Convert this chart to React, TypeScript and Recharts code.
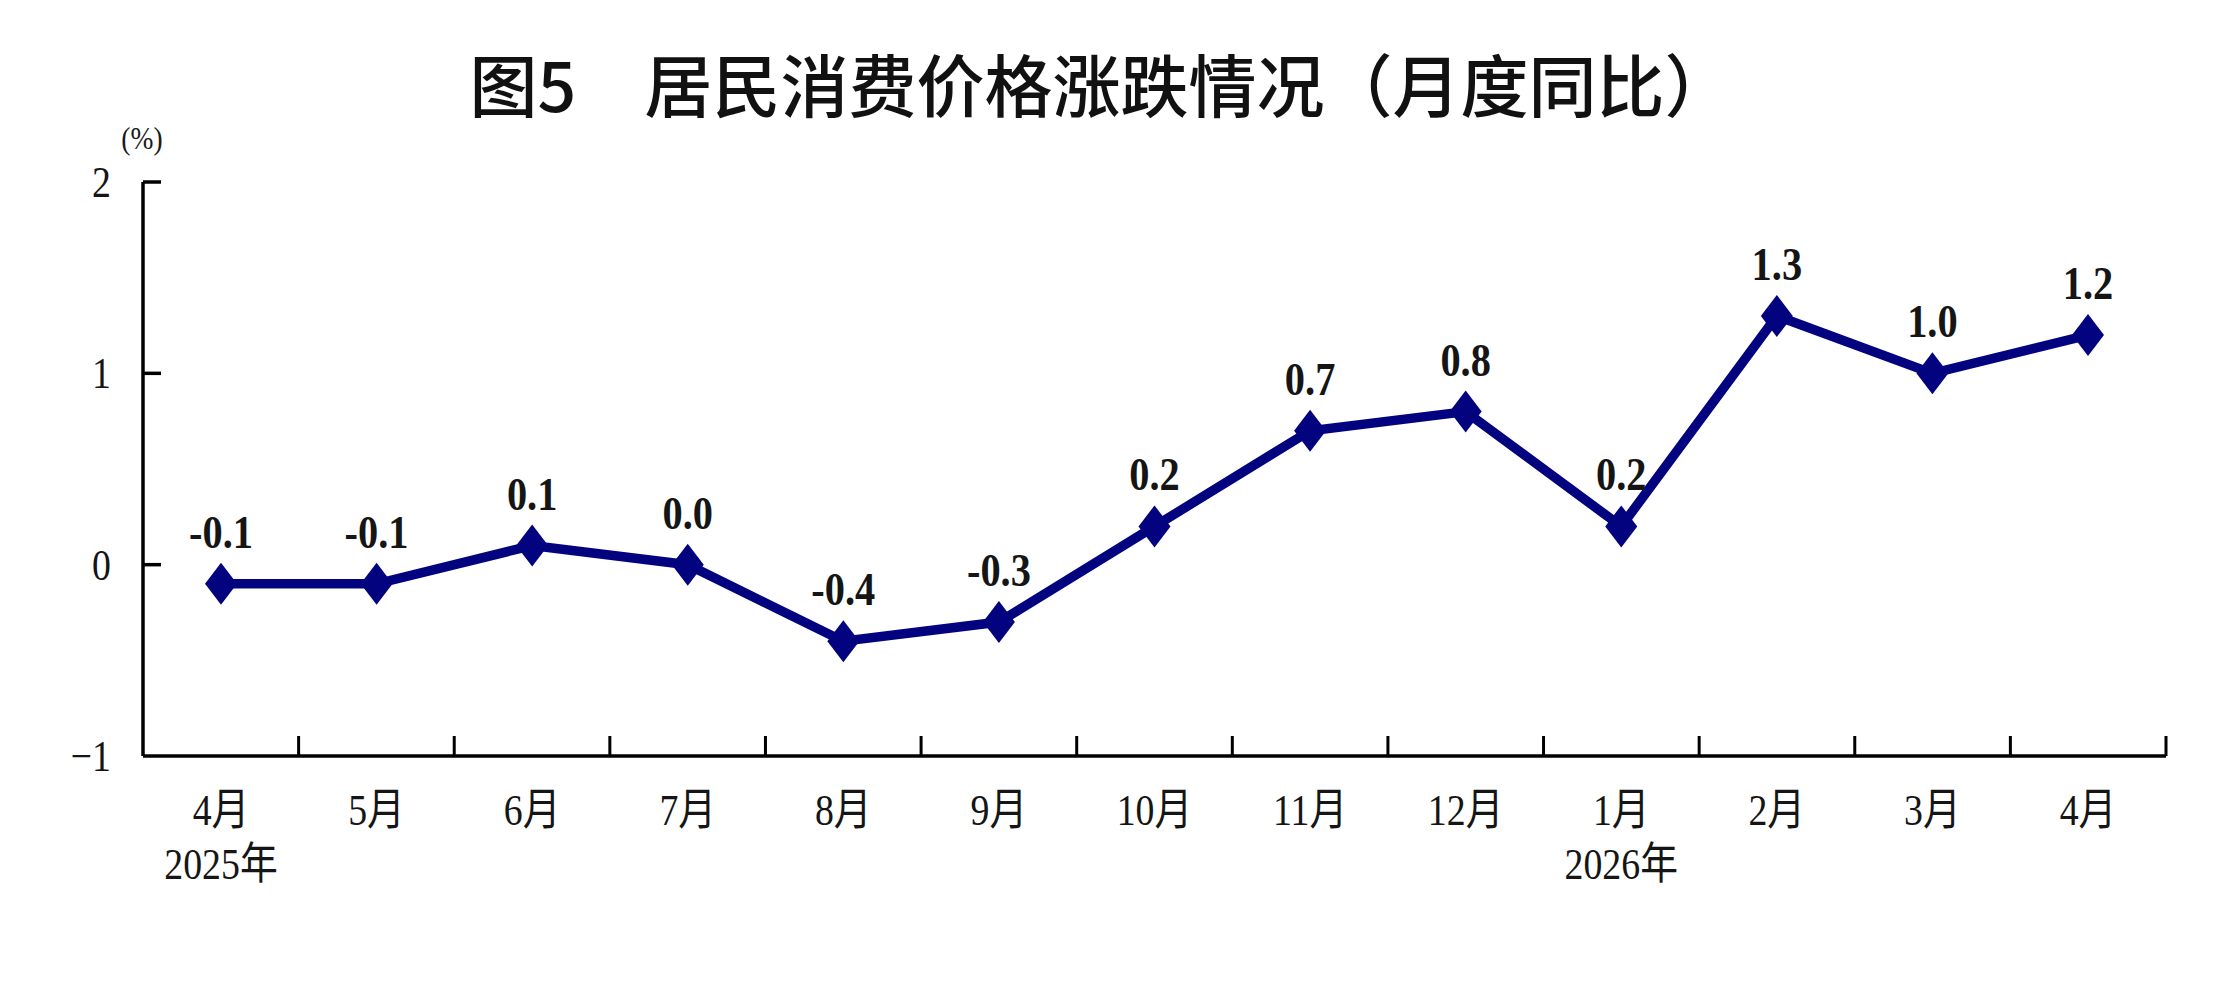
import React from "react";
import { LineChart, Line, XAxis, YAxis, LabelList } from "recharts";

document.body.style.margin = "0";

// 月份、年份标注与同比数据
const months = ["4月", "5月", "6月", "7月", "8月", "9月", "10月", "11月", "12月", "1月", "2月", "3月", "4月"];
const years = ["2025年", "", "", "", "", "", "", "", "", "2026年", "", "", ""];
const cpiYoY = [-0.1, -0.1, 0.1, 0.0, -0.4, -0.3, 0.2, 0.7, 0.8, 0.2, 1.3, 1.0, 1.2];
const yTicks = [-1, 0, 1, 2];
const yInnerTicks = [0, 1, 2];
const boundaryTicks = [1, 2, 3, 4, 5, 6, 7, 8, 9, 10, 11, 12, 13];

const data = months.map((month, i) => ({ month, year: years[i], value: cpiYoY[i] }));

const NAVY = "#03037f";
const SERIF = "'Liberation Serif', 'Noto Sans CJK SC', serif";
const NARROW = 0.86; // 原图数字偏窄

// 菱形标记
const Diamond = ({ cx, cy, index }: any) => (
  <path
    key={`d-${index}`}
    d={`M${cx},${cy - 21} L${cx + 16},${cy} L${cx},${cy + 21} L${cx - 16},${cy} Z`}
    fill={NAVY}
  />
);

// 窄体文字
const NarrowText = ({ x, y, size, weight, anchor, children }: any) => (
  <text
    transform={`translate(${x},${y}) scale(${NARROW},1)`}
    textAnchor={anchor || "middle"}
    fontSize={size}
    fontWeight={weight || 400}
    fontFamily={SERIF}
    fill="#151515"
  >
    {children}
  </text>
);

// 月份 + 年份两行标签
const MonthTick = ({ x, y, payload, index }: any) => (
  <g>
    <NarrowText x={x} y={y + 69} size={44}>{payload.value}</NarrowText>
    {years[index] ? (
      <NarrowText x={x} y={y + 123} size={44}>{years[index]}</NarrowText>
    ) : null}
  </g>
);

const ValueTick = ({ x, y, payload }: any) => {
  const v = payload.value as number;
  return (
    <NarrowText x={x} y={y + 15} size={44} anchor="end">
      {v < 0 ? `−${-v}` : `${v}`}
    </NarrowText>
  );
};

// 数据标签
const PointLabel = ({ x, y, value }: any) => (
  <NarrowText x={x} y={y - 36} size={47} weight={700}>
    {Number(value).toFixed(1)}
  </NarrowText>
);

// 只画刻度线，不画文字
const NoLabel = () => <g />;

export default function App() {
  return (
    <div style={{ position: "relative", width: 2216, height: 1008, background: "#fff" }}>
      <div
        style={{
          position: "absolute",
          left: 1101,
          top: 82,
          transform: "translate(-50%, -50%)",
          fontFamily: "'Noto Sans CJK SC', sans-serif",
          fontSize: 68,
          fontWeight: 500,
          color: "#111",
          whiteSpace: "nowrap",
        }}
      >
        图5　居民消费价格涨跌情况（月度同比）
      </div>
      <div
        style={{
          position: "absolute",
          left: 142,
          top: 138,
          transform: "translate(-50%, -50%) scaleX(0.86)",
          fontFamily: SERIF,
          fontSize: 32,
          color: "#1a1a1a",
        }}
      >
        (%)
      </div>
      <LineChart
        width={2216}
        height={1008}
        data={data}
        margin={{ top: 182, right: 50, bottom: 152, left: 63 }}
      >
        {/* 分隔刻度（朝内） */}
        <XAxis
          xAxisId={0}
          type="number"
          dataKey="boundary"
          domain={[0, 13]}
          allowDataOverflow
          ticks={boundaryTicks}
          interval={0}
          mirror
          height={1}
          tickSize={20}
          tick={NoLabel}
          axisLine={false}
          tickLine={{ stroke: "#000", strokeWidth: 3 }}
        />
        <XAxis
          xAxisId="cat"
          dataKey="month"
          height={100}
          padding={{ left: 78, right: 78 }}
          tickSize={0}
          tickMargin={0}
          tickLine={false}
          axisLine={{ stroke: "#000", strokeWidth: 3.5 }}
          tick={<MonthTick />}
          interval={0}
        />
        <YAxis
          yAxisId={0}
          domain={[-1, 2]}
          ticks={yTicks}
          interval={0}
          width={80}
          tickSize={0}
          tickMargin={32}
          tickLine={false}
          axisLine={{ stroke: "#000", strokeWidth: 3.5 }}
          tick={<ValueTick />}
        />
        <YAxis
          yAxisId="inner"
          domain={[-1, 2]}
          allowDataOverflow
          ticks={yInnerTicks}
          interval={0}
          mirror
          width={1}
          tickSize={18}
          tick={NoLabel}
          axisLine={false}
          tickLine={{ stroke: "#000", strokeWidth: 3.5 }}
        />
        <Line
          xAxisId="cat"
          yAxisId={0}
          dataKey="value"
          stroke={NAVY}
          strokeWidth={9.5}
          dot={<Diamond />}
          activeDot={false}
          isAnimationActive={false}
        >
          <LabelList dataKey="value" content={<PointLabel />} />
        </Line>
      </LineChart>
    </div>
  );
}
